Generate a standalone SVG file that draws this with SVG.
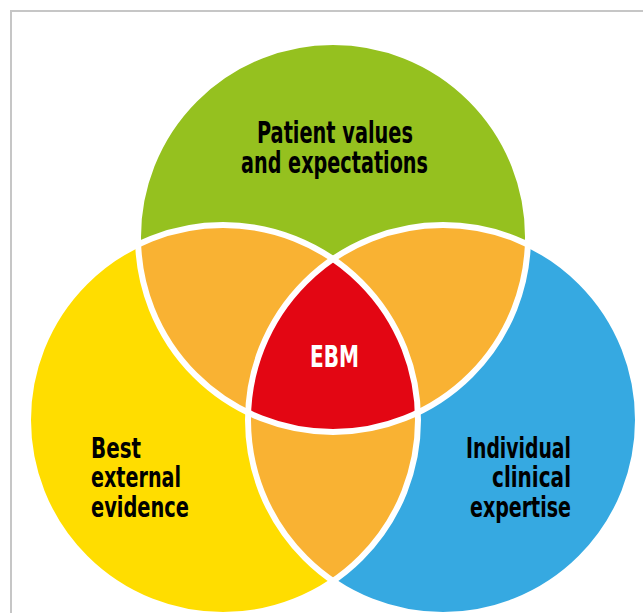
<svg xmlns="http://www.w3.org/2000/svg" width="643" height="613" viewBox="0 0 643 613">
  <style>
    .lbl { font-family: "Liberation Sans Narrow", "DejaVu Sans Condensed", "Liberation Sans", sans-serif; font-weight: bold; fill: #000; }
    .ebm { fill: #fff; }
    .rim { fill: none; stroke: #fff; stroke-width: 6; }
    .frame { fill: none; stroke: #c6c6c6; stroke-width: 2; }
  </style>
  <defs>
    <circle id="cG" cx="333" cy="237" r="195"/>
    <circle id="cY" cx="223" cy="420" r="195"/>
    <circle id="cB" cx="443" cy="420" r="195"/>
    <clipPath id="inG"><use href="#cG"/></clipPath>
    <clipPath id="inY"><use href="#cY"/></clipPath>
  </defs>

  <rect width="643" height="613" fill="#fff"/>
  <path class="frame" d="M11 613 V11 H643"/>

  <!-- three sets -->
  <g id="patient-values">
    <use href="#cG" fill="#95c11f"/>
  </g>
  <g id="best-external-evidence">
    <use href="#cY" fill="#ffdd00"/>
  </g>
  <g id="individual-clinical-expertise">
    <use href="#cB" fill="#36a9e1"/>
  </g>

  <!-- pairwise overlaps -->
  <g id="overlaps" fill="#f9b233">
    <use href="#cY" clip-path="url(#inG)"/>
    <use href="#cB" clip-path="url(#inG)"/>
    <use href="#cB" clip-path="url(#inY)"/>
  </g>

  <!-- common core -->
  <g id="ebm">
    <g clip-path="url(#inG)">
      <use href="#cB" clip-path="url(#inY)" fill="#e30613"/>
    </g>
  </g>

  <!-- white outlines -->
  <g id="outlines">
    <use href="#cG" class="rim"/>
    <use href="#cY" class="rim"/>
    <use href="#cB" class="rim"/>
  </g>

  <!-- labels -->
  <g id="labels">
    <text class="lbl" x="257" y="143" font-size="30" textLength="156" lengthAdjust="spacingAndGlyphs">Patient values</text>
    <text class="lbl" x="241" y="173" font-size="30" textLength="187" lengthAdjust="spacingAndGlyphs">and expectations</text>
    <text class="lbl ebm" x="310" y="367" font-size="30" textLength="49" lengthAdjust="spacingAndGlyphs">EBM</text>
    <text class="lbl" x="91" y="458" font-size="29" textLength="50" lengthAdjust="spacingAndGlyphs">Best</text>
    <text class="lbl" x="91" y="487" font-size="29" textLength="90" lengthAdjust="spacingAndGlyphs">external</text>
    <text class="lbl" x="91" y="517" font-size="29" textLength="98" lengthAdjust="spacingAndGlyphs">evidence</text>
    <text class="lbl" x="466" y="458" font-size="29" textLength="105" lengthAdjust="spacingAndGlyphs">Individual</text>
    <text class="lbl" x="492" y="487" font-size="29" textLength="79" lengthAdjust="spacingAndGlyphs">clinical</text>
    <text class="lbl" x="470" y="517" font-size="29" textLength="101" lengthAdjust="spacingAndGlyphs">expertise</text>
  </g>
</svg>
